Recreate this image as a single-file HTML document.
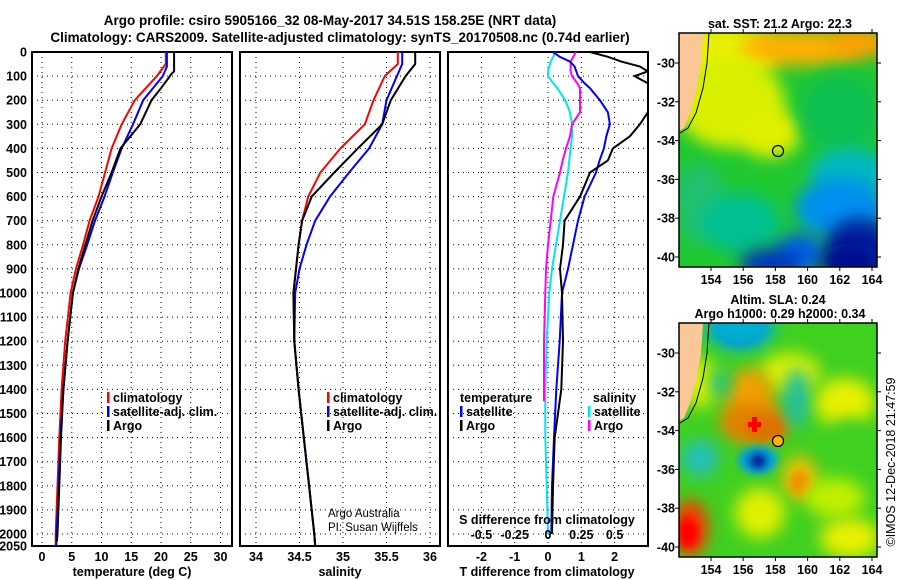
<!DOCTYPE html>
<html><head><meta charset="utf-8">
<style>
html,body{margin:0;padding:0;background:#fff;}
svg{display:block;font-family:"Liberation Sans",sans-serif;}
.b{font-weight:bold;font-size:12.5px;fill:#000;}
</style></head>
<body>
<svg id="chart" width="900" height="580" viewBox="0 0 900 580" xmlns="http://www.w3.org/2000/svg">
<defs>
<filter id="bl" x="-50%" y="-50%" width="200%" height="200%"><feGaussianBlur stdDeviation="8"/></filter>
<filter id="bl2" x="-50%" y="-50%" width="200%" height="200%"><feGaussianBlur stdDeviation="4"/></filter>
<clipPath id="m1c"><rect x="679" y="33" width="198" height="234"/></clipPath>
<clipPath id="m2c"><rect x="679" y="323" width="198" height="234"/></clipPath>
<clipPath id="p1c"><rect x="32" y="52" width="200" height="494"/></clipPath>
<clipPath id="p2c"><rect x="240" y="52" width="200" height="494"/></clipPath>
<clipPath id="p3c"><rect x="448" y="52" width="200" height="494"/></clipPath>
</defs>
<text x="330" y="25" text-anchor="middle" class="b" style="font-size:13.5px">Argo profile: csiro 5905166_32 08-May-2017 34.51S 158.25E (NRT data)</text>
<text x="340" y="42" text-anchor="middle" class="b" style="font-size:13.5px">Climatology: CARS2009. Satellite-adjusted climatology: synTS_20170508.nc (0.74d earlier)</text>
<g id="panels"></g>
<g id="maps"></g>
<text transform="translate(895,462) rotate(-90)" text-anchor="middle" style="font-size:12.5px">©IMOS 12-Dec-2018 21:47:59</text>
</svg>
<script>
// depth grid values
const depthTicks = [0,100,200,300,400,500,600,700,800,900,1000,1100,1200,1300,1400,1500,1600,1700,1800,1900,2000];
// temperature panel
const tempTicks = [0,5,10,15,20,25,30];
const depthTArgo = [0,80,90,100,150,200,300,400,500,600,700,800,900,1000,1200,1400,1600,1800,2000,2030];
const tempArgo = [22.2,22.2,21.8,21.5,20.0,18.4,16.5,13.2,11.7,10.0,8.5,7.3,6.1,5.2,4.3,3.6,3.2,2.9,2.6,2.5];
const depthTClim = [0,50,100,200,300,400,500,600,700,800,900,1000,1200,1400,1600,1800,2000,2050];
const tempClim = [20.8,20.8,19.3,15.6,13.4,11.7,10.6,9.5,8.0,6.9,5.7,4.8,3.9,3.3,2.9,2.6,2.3,2.3];
const depthTSat = [0,60,100,200,300,400,500,600,700,800,900,1000,1200,1400,1600,1800,2000,2050];
const tempSat = [21.0,21.0,20.3,17.0,15.3,13.4,11.9,10.5,8.9,7.6,6.2,5.2,4.3,3.6,3.1,2.8,2.45,2.4];
// salinity panel
const salTicks = [34,34.5,35,35.5,36];
const depthS = [0,50,100,200,300,400,500,600,700,800,900,1000,1200,1400,1600,1800,2000,2050];
const salArgo = [35.83,35.83,35.72,35.55,35.45,35.17,34.9,34.64,34.53,34.49,34.46,34.43,34.44,34.49,34.55,34.61,34.67,34.68];
const salSat = [35.68,35.68,35.62,35.5,35.45,35.3,35.07,34.85,34.68,34.58,34.5,34.45,34.44,34.49,34.55,34.61,34.67,34.68];
const salClim = [35.63,35.63,35.48,35.35,35.25,34.97,34.74,34.6,34.53,34.49,34.46,34.43,34.44,34.49,34.55,34.61,34.67,34.68];
// difference panel
const dTTicks = [-2,-1,0,1,2];
const dSTicks = [-0.5,-0.25,0,0.25,0.5];
const dSTickLabels = ["-0.5","-0.25","0","0.25","0.5"];
const depthD = [0,20,40,60,80,100,130,150,200,250,300,350,400,450,500,600,700,800,900,1000,1200,1400,1600,1800,2000];
const dTArgo = [1.26,1.8,2.2,2.76,3.0,2.6,3.0,3.1,3.1,3.0,2.76,2.46,1.95,1.8,1.26,0.96,0.5,0.45,0.36,0.42,0.45,0.4,0.2,0.15,0.12];
const dTSat = [0.15,0.35,0.66,0.8,0.85,0.9,1.1,1.26,1.56,1.8,1.86,1.75,1.68,1.55,1.44,1.1,0.9,0.75,0.6,0.42,0.35,0.25,0.18,0.12,0.1];
const dSSat = [0.05,0.04,0.02,0.01,0.0,0.0,0.04,0.07,0.13,0.165,0.18,0.18,0.17,0.16,0.15,0.12,0.09,0.06,0.03,0.01,-0.01,-0.02,-0.02,-0.01,0.0];
const depthDSArgo = [0,20,40,60,80,100,130,150,200,250,300,350,400,450,500,600,700,800,900,1000,1200,1450];
const dSArgo = [0.21,0.19,0.17,0.17,0.17,0.18,0.22,0.24,0.24,0.24,0.18,0.165,0.135,0.11,0.09,0.04,0.02,0.0,-0.015,-0.02,-0.03,-0.03];
// map axes
const lonTicks = [154,156,158,160,162,164];
const latTicks = [-30,-32,-34,-36,-38,-40];

const NS='http://www.w3.org/2000/svg';
function mk(tag,attrs,parent,txt){const e=document.createElementNS(NS,tag);for(const k in attrs)e.setAttribute(k,attrs[k]);if(txt!==undefined)e.textContent=txt;parent.appendChild(e);return e;}
const yD = d => 52 + 0.241*d;
const panels=document.getElementById('panels');

function panel(x0,name,xScale,ticks,tickLabels){
  const g=mk('g',{},panels);
  
  
  depthTicks.forEach(d=>{
    const l=mk('line',{x1:x0,x2:x0+200,y1:yD(d),y2:yD(d),stroke:'#000','stroke-width':1,'stroke-dasharray':'1 4'},g);
    
    
  });
  ticks.forEach((t,i)=>{
    const x=xScale(t);
    const l=mk('line',{x1:x,x2:x,y1:52,y2:546,stroke:'#000','stroke-width':1,'stroke-dasharray':'1 4'},g);
    
    
    if(tickLabels){
      const tx=mk('text',{x:x,y:561,'text-anchor':'middle',class:'b'},g,tickLabels[i]);
      
      
    }
  });
  const r=mk('rect',{x:x0,y:52,width:200,height:494,fill:'none',stroke:'#000','stroke-width':2},g);
  
  
  return g;
}
function line(g,clip,depths,vals,xScale,color,name){
  let d='';
  depths.forEach((dp,i)=>{d+=(i?'L':'M')+xScale(vals[i]).toFixed(1)+' '+yD(dp).toFixed(1);});
  const p=mk('path',{d:d,fill:'none',stroke:color,'stroke-width':2,'clip-path':'url(#'+clip+')'},g);
  
  
}
function legend(g,x,y,color,label,name){
  const r=mk('rect',{x:x,y:y-10,width:2.5,height:11,fill:color},g);
  
  
  const t=mk('text',{x:x+6,y:y,class:'b'},g,label);
  
  
}

// depth labels
depthTicks.concat([2050]).forEach(d=>{
  const t=mk('text',{x:27,y:yD(d)+4.5,'text-anchor':'end',class:'b'},panels,String(d));
  
  
});

// panel 1 temperature
const xT = v => 42 + 5.95*v;
const g1=panel(32,'temperature-panel',xT,tempTicks,tempTicks.map(String));
line(g1,'p1c',depthTClim,tempClim,xT,'#ff0000','temperature-climatology-line');
line(g1,'p1c',depthTSat,tempSat,xT,'#0000ff','temperature-satellite-line');
line(g1,'p1c',depthTArgo,tempArgo,xT,'#000000','temperature-argo-line');
legend(g1,107,402,'#ff0000','climatology','legend-climatology');
legend(g1,107,416,'#0000ff','satellite-adj. clim.','legend-satellite');
legend(g1,107,430,'#000','Argo','legend-argo');
let t=mk('text',{x:132,y:576,'text-anchor':'middle',class:'b'},g1,'temperature (deg C)');



// panel 2 salinity
const xS = v => 256 + 87*(v-34);
const g2=panel(240,'salinity-panel',xS,salTicks,salTicks.map(String));
line(g2,'p2c',depthS,salClim,xS,'#ff0000','salinity-climatology-line');
line(g2,'p2c',depthS,salSat,xS,'#0000ff','salinity-satellite-line');
line(g2,'p2c',depthS,salArgo,xS,'#000000','salinity-argo-line');
legend(g2,327,402,'#ff0000','climatology','legend-climatology');
legend(g2,327,416,'#0000ff','satellite-adj. clim.','legend-satellite');
legend(g2,327,430,'#000','Argo','legend-argo');
t=mk('text',{x:340,y:576,'text-anchor':'middle',class:'b'},g2,'salinity');


t=mk('text',{x:328,y:517,style:'font-size:11.5px'},g2,'Argo Australia');


t=mk('text',{x:328,y:531,style:'font-size:11.5px'},g2,'PI: Susan Wijffels');



// panel 3 differences
const xDT = v => 548 + 33.3*v;
const xDS = v => 548 + 133.2*v;
const g3=panel(448,'difference-panel',xDT,dTTicks,dTTicks.map(String));
line(g3,'p3c',depthD,dSSat,xDS,'#00e5ee','salinity-diff-satellite-line');
line(g3,'p3c',depthDSArgo,dSArgo,xDS,'#ff00ff','salinity-diff-argo-line');
line(g3,'p3c',depthD,dTSat,xDT,'#0000ff','temperature-diff-satellite-line');
line(g3,'p3c',depthD,dTArgo,xDT,'#000000','temperature-diff-argo-line');
dSTicks.forEach((v,i)=>{
  const tx=mk('text',{x:xDS(v),y:539,'text-anchor':'middle',class:'b'},g3,dSTickLabels[i]);
  
  
});
t=mk('text',{x:547,y:524,'text-anchor':'middle',class:'b'},g3,'S difference from climatology');


t=mk('text',{x:547,y:576,'text-anchor':'middle',class:'b'},g3,'T difference from climatology');


t=mk('text',{x:460,y:402,class:'b'},g3,'temperature');


legend(g3,460,416,'#0000ff','satellite','legend-t-satellite');
legend(g3,460,430,'#000','Argo','legend-t-argo');
t=mk('text',{x:593,y:402,class:'b'},g3,'salinity');


legend(g3,588,416,'#00e5ee','satellite','legend-s-satellite');
legend(g3,588,430,'#ff00ff','Argo','legend-s-argo');

// maps
const maps=document.getElementById('maps');
const lonX = v => 711 + 16.1*(v-154);
function mapFrame(y0,name,latY,blobs,circleFill,titleLines){
  const g=mk('g',{},maps);
  
  
  const clip=mk('g',{'clip-path':'url(#'+(y0<100?'m1c':'m2c')+')'},g);
  mk('rect',{x:679,y:y0,width:198,height:234,fill:blobs[0]},clip);
  blobs.slice(1).forEach(b=>{
    const e=mk('ellipse',{cx:b[0],cy:y0+b[1],rx:b[2],ry:b[3],fill:b[4],filter:b[5]?'url(#bl2)':'url(#bl)'},clip);
    
    
  });
  const land=mk('path',{d:`M679 ${y0} L703 ${y0} L701 ${y0+30} L697 ${y0+55} L690 ${y0+80} L684 ${y0+95} L679 ${y0+98} Z`,fill:'#fac896'},clip);
  
  
  mk('path',{d:`M709 ${y0} L707 ${y0+30} L703 ${y0+55} L696 ${y0+80} L688 ${y0+95} L680 ${y0+100}`,fill:'none',stroke:'#000','stroke-width':1},clip);
  const c=mk('circle',{cx:778,cy:y0+118,r:5.5,fill:circleFill,stroke:'#000','stroke-width':1.2},g);
  
  
  const fr=mk('rect',{x:679,y:y0,width:198,height:234,fill:'none',stroke:'#000','stroke-width':1.5},g);
  
  
  lonTicks.forEach(v=>{
    const x=lonX(v);
    mk('line',{x1:x,x2:x,y1:y0,y2:y0-4,stroke:'#000'},g);
    mk('line',{x1:x,x2:x,y1:y0+234,y2:y0+238,stroke:'#000'},g);
    const tx=mk('text',{x:x,y:y0+251,'text-anchor':'middle',class:'b'},g,String(v));
    
    
  });
  latTicks.forEach(v=>{
    const y=latY(v);
    mk('line',{x1:877,x2:881,y1:y,y2:y,stroke:'#000'},g);
    mk('line',{x1:675,x2:679,y1:y,y2:y,stroke:'#000'},g);
    const tx=mk('text',{x:675,y:y+4.5,'text-anchor':'end',class:'b'},g,String(v));
    
    
  });
  titleLines.forEach((s,i)=>{
    const tx=mk('text',{x:titleLines.length>1&&i==0?778:780,y:y0-(titleLines.length-i)*14+9,'text-anchor':'middle',class:'b'},g,s);
    
    
  });
}
mapFrame(33,'sst-map',v=>63+19.4*(-30-v),[
  '#20c830',
  [720,20,60,30,'#e8f000'],[800,15,60,18,'#ffb000'],[860,10,30,15,'#ffa000'],
  [730,70,55,45,'#d8f000'],[770,100,30,25,'#e0f000'],
  [840,80,40,40,'#10c050'],[700,170,25,40,'#20c070'],
  [740,190,40,30,'#00c090'],[850,140,40,25,'#00b8c0'],
  [840,175,45,30,'#0090f0'],[860,215,35,30,'#0020a0'],[800,220,25,20,'#0060e0'],
  [770,230,30,14,'#0030c0'],[850,230,30,20,'#000c90']
],'none',['sat. SST: 21.2 Argo: 22.3']);
mapFrame(323,'sla-map',v=>353+19.4*(-30-v),[
  '#40d020',
  [740,5,25,18,'#1060e0',1],[740,5,35,22,'#00b0d0'],
  [700,60,20,25,'#d0f000'],[790,50,30,20,'#e0f000'],
  [750,80,25,35,'#f0a000'],[755,100,35,20,'#e08000'],[765,105,20,12,'#e07000',1],
  [797,75,13,30,'#20c0a0'],[720,60,10,15,'#20c080'],
  [700,135,18,18,'#20c0c0'],[758,137,20,14,'#00a0e0',1],[758,138,8,7,'#001890',1],
  [800,155,18,22,'#f0c000'],[800,160,10,12,'#f09000',1],
  [690,205,18,28,'#ff3000'],[688,210,10,15,'#ff0000',1],
  [845,80,30,25,'#e8f000'],[850,120,25,25,'#40d020'],[760,190,25,25,'#e0f000'],
  [835,175,30,20,'#c0f000'],[850,215,30,20,'#e8f000']
],'#ffb000',['Altim. SLA: 0.24','Argo h1000: 0.29 h2000: 0.34']);
// red cross at SLA max
const cross=mk('path',{d:'M752 417 h5 v5 h4 v5 h-4 v5 h-5 v-5 h-4 v-5 h4 z',fill:'#ff0000'},maps);


</script>
</body></html>
